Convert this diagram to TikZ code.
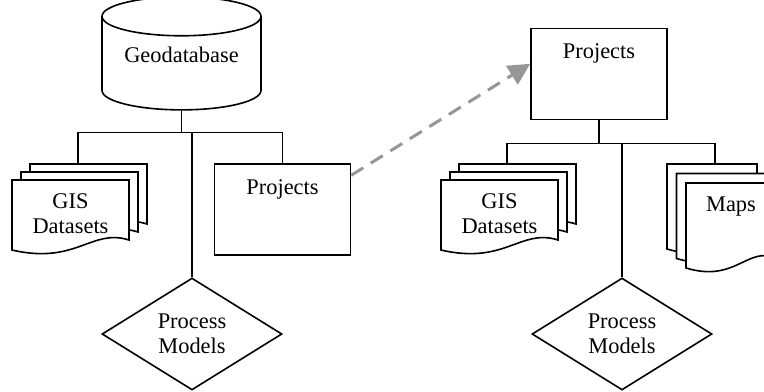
\documentclass[tikz,border=0pt]{standalone}
\usepackage{fontspec}
\setmainfont{Liberation Serif}
\usetikzlibrary{arrows.meta, shapes.geometric, calc}

\definecolor{linkgray}{RGB}{150,150,150}

\begin{document}
\begin{tikzpicture}[
    x=0.5pt, y=-0.5pt, line width=0.8pt,
    font=\fontsize{11.2pt}{12.5pt}\selectfont,
    store/.style={draw, cylinder, shape border rotate=90, aspect=0.34,
                  minimum width=79.5pt, minimum height=56.5pt,
                  inner sep=0pt, text depth=9pt},
    box/.style={draw, minimum width=68pt, minimum height=45.5pt,
                inner sep=0pt, text height=8pt, text depth=23.5pt},
    decision/.style={draw, diamond, aspect=1.6, minimum width=90pt,
                     minimum height=56pt, inner sep=0pt, align=center},
    sheet/.style={draw, fill=white},
    link/.style={draw=linkgray, line width=1.5pt,
                 dash pattern=on 7pt off 4.5pt,
                 -{Triangle[length=10.8pt, width=10.8pt]}},
    pics/docstack/.style n args={4}{code={
      \foreach \k in {2,1,0}
        \draw[sheet] ($\k*(#3)$) -- ++(#1,0) -- ++(0,#2-10)
          .. controls +(-0.32*#1,-12) and +(0.55*#1,15) .. ++(-#1,10) -- cycle;
      \coordinate (-in) at ($2*(#3)+(48,0)$);
      \node[anchor=north, align=center, inner sep=0pt] (-txt) at (0.5*#1,13) {#4};
    }}
  ]
  \path[use as bounding box] (0,0) rectangle (764,391);
  \clip (0,0) rectangle (764,391);

  % Geodatabase side
  \node[store] (geo) at (181.5,63.5) {Geodatabase};
  \pic (gisL) at (12,180) {docstack={117}{70}{9,-8}{GIS\\Datasets}};
  \node[box] (projL) at (282.5,209.5) {Projects};
  \node[decision] (procL) at (192,334) {Process\\Models};
  \coordinate (busL) at ($(geo.south)+(0,22)$);

  \draw (geo.south) -- (busL);
  \draw (gisL-in) |- (busL) -| (projL.north);
  \draw (procL.north) -- (procL.north |- busL);

  % Project side
  \node[box] (projR) at (599,74) {Projects};
  \pic (gisR) at (441,180) {docstack={117}{70}{9,-8}{GIS\\Datasets}};
  \pic (maps) at (686,183) {docstack={90}{85}{-9.5,-9.5}{Maps}};
  \node[decision] (procR) at (622,334) {Process\\Models};
  \coordinate (busR) at ($(projR.south)+(0,23)$);

  \draw (projR) -- (busR);
  \draw (gisR-in) |- (busR) -| (maps-in);
  \draw (procR.north) -- (procR.north |- busR);

  % Link
  \draw[link] ($(projL.north east)!0.13!(projL.south east)$)
    -- ($(projR.north west)!0.39!(projR.south west)$);

\end{tikzpicture}
\end{document}
